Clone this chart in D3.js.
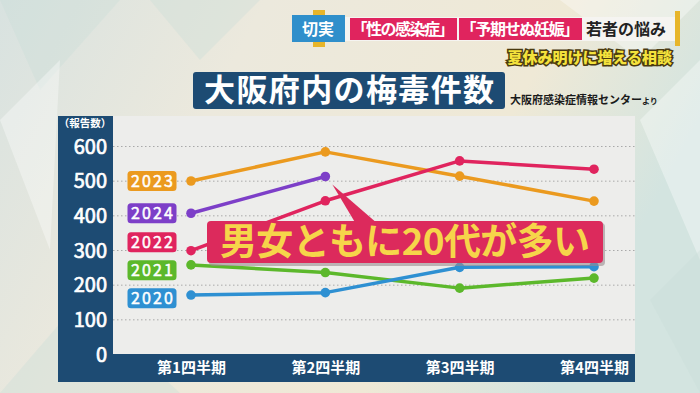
<!DOCTYPE html>
<html><head><meta charset="utf-8">
<script src="https://cdn.jsdelivr.net/npm/d3@7"></script>
<style>
html,body{margin:0;padding:0;background:#ece8dc;}
svg{display:block;}
text{font-family:"Noto Sans CJK JP","Noto Sans",sans-serif;}
</style></head>
<body>
<svg id="c" width="700" height="393"></svg>
<script>
// ---- data ----
const quarters = ["第1四半期", "第2四半期", "第3四半期", "第4四半期"];
const years = ["2023", "2024", "2022", "2021", "2020"];
const colors = ["#eb9a1f", "#7d3fc8", "#e0245e", "#5cb82b", "#2e90d2"];
const v2023 = [499, 583, 513, 441];
const v2024 = [406, 512];
const v2022 = [298, 442, 557, 533];
const v2021 = [257, 235, 190, 219];
const v2020 = [170, 177, 250, 252];
const yTicks = [0, 100, 200, 300, 400, 500, 600];
const title = "大阪府内の梅毒件数";
const source = "大阪府感染症情報センター";
const callout = "男女ともに20代が多い";
const unitLabel = "（報告数）";

const seriesValues = [v2023, v2024, v2022, v2021, v2020];
const series = years.map((y, i) => ({year: y, color: colors[i], values: seriesValues[i]}));

const svg = d3.select("#c");

// ---- background ----
const defs = svg.append("defs");
const bg = defs.append("linearGradient").attr("id", "bg").attr("x1", 0).attr("y1", 0).attr("x2", 1).attr("y2", 0.3);
bg.append("stop").attr("offset", "0%").attr("stop-color", "#d8e2e0");
bg.append("stop").attr("offset", "35%").attr("stop-color", "#ece9dd");
bg.append("stop").attr("offset", "75%").attr("stop-color", "#efe9d6");
bg.append("stop").attr("offset", "100%").attr("stop-color", "#d3e4e0");
svg.append("rect").attr("width", 700).attr("height", 393).attr("fill", "url(#bg)");
const tris = [
  [[0,0],[120,0],[40,90]], [[0,120],[60,60],[50,250]], [[0,393],[80,300],[180,393]],
  [[640,120],[700,60],[700,260]], [[650,300],[700,250],[700,393]], [[560,0],[700,0],[640,60]],
  [[150,0],[260,0],[200,60]]
];
svg.append("g").selectAll("polygon").data(tris).join("polygon")
  .attr("points", d => d.map(p => p.join(",")).join(" "))
  .attr("fill", (d, i) => i % 2 ? "#ffffff" : "#c9dcd8").attr("opacity", 0.35);

// ---- header ----
const hdr = svg.append("g");
hdr.append("rect").attr("x", 345).attr("y", 17).attr("width", 330).attr("height", 24).attr("fill", "#f5f4f1");
hdr.append("rect").attr("x", 675).attr("y", 11).attr("width", 5).attr("height", 35).attr("fill", "#e7b52a");
hdr.append("rect").attr("x", 313).attr("y", 10).attr("width", 12).attr("height", 37).attr("fill", "#e7b52a");
hdr.append("rect").attr("x", 292).attr("y", 15).attr("width", 53).attr("height", 27).attr("fill", "#2f8fcb");
hdr.append("text").attr("x", 318).attr("y", 35).attr("text-anchor", "middle").attr("fill", "#fff")
  .attr("font-size", 16).attr("font-weight", 700).text("切実");
hdr.append("rect").attr("x", 350).attr("y", 18).attr("width", 107).attr("height", 22).attr("fill", "#e0245e");
hdr.append("rect").attr("x", 459).attr("y", 18).attr("width", 123).attr("height", 22).attr("fill", "#e0245e");
hdr.append("text").attr("x", 403).attr("y", 35).attr("text-anchor", "middle").attr("fill", "#fff")
  .attr("font-size", 16).attr("font-weight", 700).attr("textLength", 103).text("「性の感染症」");
hdr.append("text").attr("x", 520).attr("y", 35).attr("text-anchor", "middle").attr("fill", "#fff")
  .attr("font-size", 16).attr("font-weight", 700).attr("textLength", 119).text("「予期せぬ妊娠」");
hdr.append("text").attr("x", 626).attr("y", 35).attr("text-anchor", "middle").attr("fill", "#222")
  .attr("font-size", 16).attr("font-weight", 700).text("若者の悩み");
hdr.append("text").attr("x", 672).attr("y", 63).attr("text-anchor", "end").attr("fill", "#f4e23c")
  .attr("stroke", "#4a3a10").attr("stroke-width", 3).attr("paint-order", "stroke")
  .attr("font-size", 15).attr("font-weight", 900).text("夏休み明けに増える相談");

// ---- title ----
svg.append("rect").attr("x", 193).attr("y", 72).attr("width", 312).attr("height", 37).attr("rx", 3).attr("fill", "#1d4b73");
svg.append("text").attr("x", 349).attr("y", 101).attr("text-anchor", "middle").attr("fill", "#fff")
  .attr("font-size", 31).attr("font-weight", 700).attr("textLength", 290).text(title);
const src = svg.append("text").attr("x", 510).attr("y", 104).attr("fill", "#1a1a1a").attr("font-weight", 700);
src.append("tspan").attr("font-size", 11).text(source);
src.append("tspan").attr("font-size", 8).text("より");

// ---- chart panel ----
const L = 58, PL = 113, R = 635, T = 116, B = 354, BB = 382;
svg.append("rect").attr("x", L).attr("y", T).attr("width", PL - L).attr("height", BB - T).attr("fill", "#1d4b73");
svg.append("rect").attr("x", L).attr("y", B).attr("width", R - L).attr("height", BB - B).attr("fill", "#1d4b73");
svg.append("rect").attr("x", PL).attr("y", T).attr("width", R - PL).attr("height", B - T).attr("fill", "#ededeb");

const x = d3.scalePoint().domain(quarters).range([191, 594]);
const y = d3.scaleLinear().domain([0, 600]).range([B, 146]);

// gridlines
const grid = svg.append("g").attr("transform", `translate(${PL},0)`)
  .call(d3.axisRight(y).tickValues(yTicks.filter(t => t > 0)).tickSize(R - PL).tickFormat(""));
grid.select(".domain").remove();
grid.selectAll("line").attr("stroke", "#a9a9a9").attr("stroke-width", 1).attr("stroke-dasharray", "1.5,2.5");

// y axis labels
const ya = svg.append("g").attr("transform", `translate(107,0)`)
  .call(d3.axisLeft(y).tickValues(yTicks).tickSize(0).tickPadding(0));
ya.select(".domain").remove();
ya.selectAll("text").attr("fill", "#fff").attr("font-size", 20).attr("font-weight", 400)
  .attr("stroke", "#fff").attr("stroke-width", 0.7)
  .attr("font-family", "'DejaVu Sans',sans-serif").attr("dy", "0.36em");
svg.append("text").attr("x", 85).attr("y", 127).attr("text-anchor", "middle").attr("fill", "#fff")
  .attr("font-size", 10.5).attr("font-weight", 700).text(unitLabel);

// x axis labels
const xa = svg.append("g").attr("transform", `translate(0,${(B + BB) / 2})`)
  .call(d3.axisBottom(x).tickSize(0).tickPadding(0));
xa.select(".domain").remove();
xa.selectAll("text").attr("fill", "#fff").attr("font-size", 15).attr("font-weight", 700).attr("dy", "0.35em");

// lines
const line = d3.line().x((d, i) => x(quarters[i])).y(d => y(d));
const drawOrder = [0, 3, 4, 2, 1];
const lg = svg.append("g");
drawOrder.forEach(i => {
  const s = series[i];
  lg.append("path").attr("d", line(s.values)).attr("fill", "none").attr("stroke", s.color)
    .attr("stroke-width", 3.5).attr("stroke-linejoin", "round");
  lg.selectAll(null).data(s.values).join("circle")
    .attr("cx", (d, j) => x(quarters[j])).attr("cy", d => y(d)).attr("r", 4.8).attr("fill", s.color);
});

// year labels (collision-resolved)
const labs = series.map(s => ({s, cy: y(s.values[0])})).sort((a, b) => a.cy - b.cy);
for (let k = 0; k < 50; k++) {
  for (let i = 1; i < labs.length; i++) {
    const gap = labs[i].cy - labs[i - 1].cy;
    if (gap < 28) { const d = (28 - gap) / 2; labs[i].cy += d; labs[i - 1].cy -= d; }
  }
}
const lab = svg.append("g").selectAll("g").data(labs).join("g")
  .attr("transform", d => `translate(152,${d.cy})`);
lab.append("rect").attr("x", -24.5).attr("y", -10).attr("width", 49).attr("height", 20).attr("rx", 3.5)
  .attr("fill", d => d.s.color);
lab.append("text").attr("text-anchor", "middle").attr("dy", "0.36em").attr("fill", "#fff")
  .attr("font-size", 16).attr("font-weight", 400).attr("stroke", "#fff").attr("stroke-width", 0.5)
  .attr("font-family", "'DejaVu Sans',sans-serif")
  .attr("textLength", 42).text(d => d.s.year);

// callout
const cg = svg.append("g");
const tip = [x(quarters[1]) + 7, y(v2024[1]) + 8];
cg.append("rect").attr("x", 209).attr("y", 223).attr("width", 396).attr("height", 43).attr("rx", 4).attr("fill", "#9a8c90").attr("opacity", 0.6);
cg.append("polygon").attr("points", `${tip[0]},${tip[1]} 356,224 378,224`).attr("fill", "#dc2a5c");
cg.append("rect").attr("x", 207).attr("y", 221).attr("width", 396).attr("height", 42).attr("rx", 4).attr("fill", "#dc2a5c");
cg.append("text").attr("x", 405).attr("y", 255).attr("text-anchor", "middle").attr("fill", "#f6d54a")
  .attr("font-size", 37).attr("font-weight", 700).attr("textLength", 370).text(callout);
</script>
</body></html>
